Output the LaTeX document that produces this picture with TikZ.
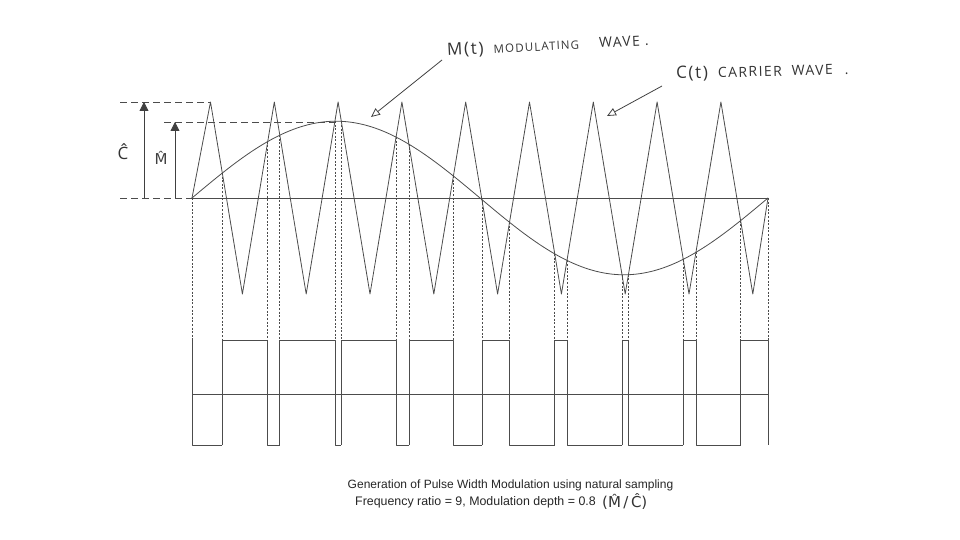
\documentclass[tikz,border=0pt]{standalone}
\usepackage{fontspec}
\setmainfont{Liberation Sans}
\newfontfamily\hand[LetterSpace=10]{Open Sans}
\newfontfamily\hatfont{DejaVu Sans}
\usetikzlibrary{arrows.meta}

\tikzset{
  wave/.style={draw=black!70, line width=0.8pt, line join=round},
  drop/.style={draw=black!70, line width=0.8pt, dash pattern=on 2pt off 1.6pt},
  guide/.style={draw=black!70, line width=0.7pt, dash pattern=on 7pt off 4pt},
  amp/.style={draw=black!75, line width=0.8pt, -{Triangle[length=9pt,width=9pt]}},
  pointer/.style={draw=black!75, line width=0.8pt, -{Triangle[open,length=9pt,width=8pt]}},
  handtext/.style={font=\hand\fontsize{12}{14}\selectfont, text=black!80, inner sep=0pt}
}

\begin{document}
\begin{tikzpicture}[x=1pt, y=-1pt]
  \useasboundingbox (0,0) rectangle (960,540);

  % amplitude markers
  \coordinate (cbase) at (144,198);
  \coordinate (ctop) at (144,102);
  \coordinate (mbase) at (175,198);
  \coordinate (mtop) at (175,122);
  \draw[guide] (120,102) -- (210.5,102);
  \draw[guide] (164,122) -- (336,122);
  \draw[guide] (120,198) -- (192,198);
  \draw[amp] (cbase) -- (ctop);
  \draw[amp] (mbase) -- (mtop);
  \node[handtext, font=\hand\fontsize{17}{19}\selectfont] (chat) at (123,152) {Ĉ};
  \node[handtext, font=\hatfont\fontsize{15}{17}\selectfont, text=black!75] (mhat) at (161,158) {M̂};

  % carrier and modulating waves
  \draw[wave] (192,198) -- (768,198);
  \draw[wave] (192,198) \foreach \k in {0,...,8} {
      -- ({210.5+63.8*\k},102) -- ({242.4+63.8*\k},294) } -- (768,198);
  \draw[wave] plot[domain=192:768, samples=97, smooth]
    (\x,{198-76.8*sin((\x-192)*0.625)});

  % crossing points dropped to the pulse train
  \foreach \x in {192,222.3,267.7,279.8,334.9,341.3,396.1,408.9,453.4,
                  481.9,509.5,554.8,567.0,622.0,628.4,683.2,695.9,740.6,768}
    \draw[drop] (\x,{198-76.8*sin((\x-192)*0.625)}) -- (\x,340);

  % pulse width modulated output
  \draw[wave] (192,394) -- (768,394);
  \draw[wave] (192,340) -- (192,445) -- (222.3,445);
  \foreach \a/\b/\c in {222.3/267.7/279.8, 279.8/334.9/341.3, 341.3/396.1/408.9,
                        408.9/453.4/481.9, 481.9/509.5/554.8, 554.8/567.0/622.0,
                        622.0/628.4/683.2, 683.2/695.9/740.6, 740.6/768/768}
    \draw[wave] (\a,445) -- (\a,340) -- (\b,340) -- (\b,445) -- (\c,445);

  % wave labels
  \node[handtext, anchor=west, rotate=3] (modlabel) at (447,51)
    {{\fontsize{17}{18}\selectfont M(t)}\hspace{10pt}{\fontsize{11.5}{13}\selectfont MODULATING}\hspace{20pt}{\fontsize{14}{15}\selectfont WAVE .}};
  \node[handtext, anchor=west, rotate=1.5] (carlabel) at (676,74)
    {{\fontsize{17}{18}\selectfont C(t)}\hspace{10pt}{\fontsize{14}{15}\selectfont CARRIER\hspace{10pt}WAVE\hspace{12pt}.}};
  \coordinate (modtip) at (371,117);
  \coordinate (cartip) at (607,116);
  \draw[pointer] ([xshift=-5pt,yshift=-9pt]modlabel.west) -- (modtip);
  \draw[pointer] ([xshift=-14pt,yshift=-12pt]carlabel.west) -- (cartip);

  % caption
  \node[font=\fontsize{12}{14}\selectfont, text=black!85] (title) at (510.5,485)
    {Generation of Pulse Width Modulation using natural sampling};
  \node[font=\fontsize{12.4}{14}\selectfont, text=black!85, anchor=west, inner sep=0pt]
    (ratio) at (355,502) {Frequency ratio = 9, Modulation depth = 0.8};
  \node[handtext, font=\hatfont\fontsize{15}{17}\selectfont, anchor=west]
    (depth) at ([xshift=6pt]ratio.east) {(M̂\,/\,Ĉ)};
\end{tikzpicture}
\end{document}
